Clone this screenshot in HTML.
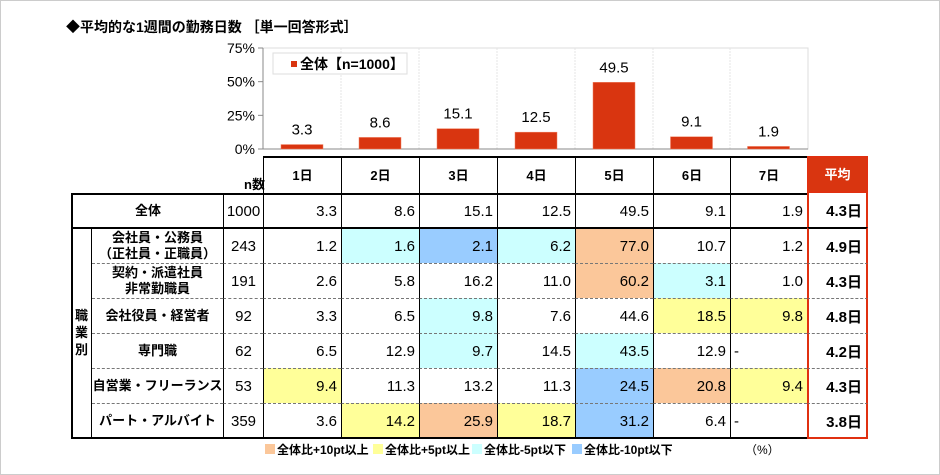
<!DOCTYPE html>
<html><head><meta charset="utf-8">
<style>
body{margin:0;width:940px;height:475px;background:#fff;position:relative;overflow:hidden;font-family:"Liberation Sans","Noto Sans CJK JP",sans-serif;color:#000}
.a{position:absolute;box-sizing:border-box}
.t{font-size:13px;font-weight:bold;white-space:nowrap}
.num{font-size:15px;text-align:right;padding-right:4px;display:flex;align-items:center;justify-content:flex-end}
.lab{font-size:13px;font-weight:bold;display:flex;align-items:center;justify-content:center;text-align:center;line-height:16px}
</style></head><body>
<div class="a" style="left:0;top:0;width:940px;height:475px;border:1px solid #ccc"></div>
<div class="a t" style="left:66px;top:17px;font-size:14px">◆平均的な1週間の勤務日数 ［単一回答形式］</div>
<svg class="a" id="chart" style="left:0;top:0" width="940" height="160"></svg>
<div id="tbl"></div>
<div class="a" style="left:262px;top:440px;width:560px;height:18px;font-size:12px;font-weight:bold">
 <span class="a" style="left:3px;top:4px;width:10px;height:10px;background:#fbc79a"></span><span class="a" style="left:15px;top:1px">全体比+10pt以上</span>
 <span class="a" style="left:111px;top:4px;width:10px;height:10px;background:#ffff99"></span><span class="a" style="left:123px;top:1px">全体比+5pt以上</span>
 <span class="a" style="left:210px;top:4px;width:10px;height:10px;background:#ccffff"></span><span class="a" style="left:222px;top:1px">全体比-5pt以下</span>
 <span class="a" style="left:310px;top:4px;width:10px;height:10px;background:#99ccff"></span><span class="a" style="left:322px;top:1px">全体比-10pt以下</span>
 <span class="a" style="left:483px;top:1px;font-weight:normal">（%）</span>
</div>
<script>
const categories=["1日","2日","3日","4日","5日","6日","7日"];
const totalValues=[3.3,8.6,15.1,12.5,49.5,9.1,1.9];
const yTicks=[0,25,50,75];
const rowLabels=["全体","会社員・公務員<br>（正社員・正職員）","契約・派遣社員<br>非常勤職員","会社役員・経営者","専門職","自営業・フリーランス","パート・アルバイト"];
const rowN=[1000,243,191,92,62,53,359];
const rowValues=[
[3.3,8.6,15.1,12.5,49.5,9.1,1.9],
[1.2,1.6,2.1,6.2,77.0,10.7,1.2],
[2.6,5.8,16.2,11.0,60.2,3.1,1.0],
[3.3,6.5,9.8,7.6,44.6,18.5,9.8],
[6.5,12.9,9.7,14.5,43.5,12.9,null],
[9.4,11.3,13.2,11.3,24.5,20.8,9.4],
[3.6,14.2,25.9,18.7,31.2,6.4,null]];
const rowAvg=["4.3日","4.9日","4.3日","4.8日","4.2日","4.3日","3.8日"];
const rowFlags=["-------","-cbco--","----oc-","--c--yy","--c-c--","y---boy","-yoyb--"];
const colX=[263,341,419,497,575,653,730,807,868];
const rowY=[193,227,263,298,333,368,403,438];
const fill={o:"#fbc79a",y:"#ffff99",c:"#ccffff",b:"#99ccff","-":"#fff"};
const NS="http://www.w3.org/2000/svg";
const svg=document.getElementById("chart");
const y0=149,yTop=48,ymax=75;
const ys=v=>y0-(v/ymax)*(y0-yTop);
function el(tag,attrs){const e=document.createElementNS(NS,tag);for(const k in attrs)e.setAttribute(k,attrs[k]);svg.appendChild(e);return e;}
let pa=el("rect",{x:263,y:yTop,width:545,height:y0-yTop,fill:"#fff",stroke:"#ddd"});

for(let i=1;i<7;i++){let g=el("line",{x1:colX[i],x2:colX[i],y1:yTop,y2:y0,stroke:"#e4e4e4","stroke-dasharray":"2,1"});}
el("line",{x1:263,x2:263,y1:yTop,y2:y0,stroke:"#888"});
el("line",{x1:263,x2:808,y1:y0,y2:y0,stroke:"#888"});
yTicks.forEach(v=>{el("line",{x1:258,x2:263,y1:ys(v),y2:ys(v),stroke:"#888"});
 let t=el("text",{x:255,y:ys(v)+5,"text-anchor":"end","font-size":"14"});t.textContent=v+"%";
 });
totalValues.forEach((v,i)=>{const cx=(colX[i]+colX[i+1])/2;
 let r=el("rect",{x:cx-21,y:ys(v),width:42,height:y0-ys(v),fill:"#d93510",stroke:"#f08060","stroke-width":"0.5"});
 
 let t=el("text",{x:cx,y:ys(v)-10,"text-anchor":"middle","font-size":"15"});t.textContent=v.toFixed(1);
 });
let lg=el("rect",{x:273,y:53,width:134,height:21,fill:"#fff",stroke:"#ddd"});

el("rect",{x:291,y:61,width:6,height:6,fill:"#d93510"});
let lt=el("text",{x:300,y:69,"font-size":"14","font-weight":"bold"});lt.textContent="全体【n=1000】";


const T=document.getElementById("tbl");
function div(cls,st,html,name){const d=document.createElement("div");d.className="a "+cls;d.style.cssText=st;d.innerHTML=html;
 
 
 T.appendChild(d);return d;}
div("lab","left:223px;top:174px;width:42px;height:22px;font-size:13px;justify-content:flex-end","n数","n-header");
categories.forEach((c,i)=>{div("lab",`left:${colX[i]}px;top:156px;width:${colX[i+1]-colX[i]}px;height:37px;border-left:1.5px solid #000;border-top:2px solid #000`,c,"col-header");});
div("lab",`left:807px;top:156px;width:61px;height:37px;background:#d93510;color:#fff;border:2px solid #e03010`,"平均","avg-header");
for(let r=0;r<7;r++){
 const top=rowY[r],h=rowY[r+1]-top;
 const bt=r<=1?"2px solid #000":"1px dashed #777";
 if(r==0)div("lab",`left:71px;top:${top}px;width:152px;height:${h}px;border-top:${bt};border-left:2px solid #000`,rowLabels[r],"row-label");
 else div("lab",`left:92px;top:${top}px;width:131px;height:${h}px;border-top:${bt}`,rowLabels[r],"row-label");
 div("num",`left:223px;top:${top}px;width:40px;height:${h}px;border-top:${bt};border-left:1.5px solid #000;justify-content:center;padding:0`,rowN[r],"n-cell");
 for(let c=0;c<7;c++){const v=rowValues[r][c];const f=rowFlags[r][c];
  const d=div("num",`left:${colX[c]}px;top:${top}px;width:${colX[c+1]-colX[c]}px;height:${h}px;border-top:${bt};border-left:1.5px solid #000;background:${fill[f]}`,v==null?"":v.toFixed(1),"value-cell");
  if(v==null){d.style.justifyContent="flex-start";d.style.paddingLeft="3px";d.textContent="-";}
 }
 div("num",`left:807px;top:${top}px;width:61px;height:${h}px;border-top:${r==0?"none":bt};border-left:2px solid #e03010;border-right:2px solid #e03010;font-weight:bold`,rowAvg[r],"avg-cell");
}
div("",`left:71px;top:227px;width:21px;height:211px;border-left:2px solid #000;border-top:2px solid #000;border-right:1.5px solid #000`,"","group-cell");
div("lab",`left:71px;top:227px;width:21px;height:211px;line-height:17px`,"職<br>業<br>別","group-label");
div("",`left:71px;top:437px;width:736px;height:2px;background:#000`,"","table-bottom");
div("",`left:807px;top:437px;width:61px;height:2px;background:#e03010`,"","avg-bottom");
</script>
</body></html>
